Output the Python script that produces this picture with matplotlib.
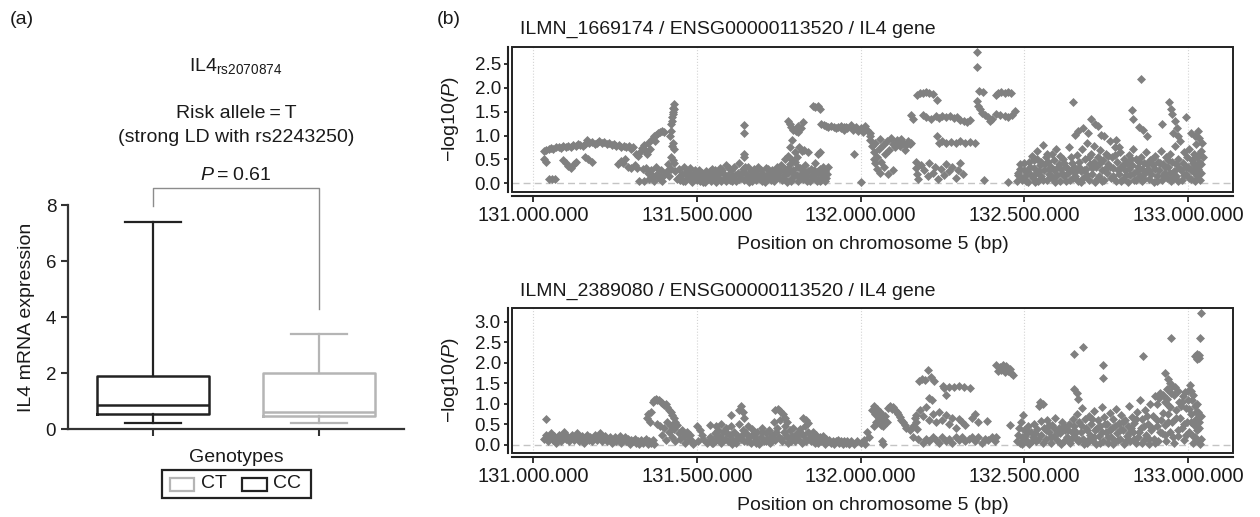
import matplotlib
matplotlib.use("Agg")
import matplotlib.pyplot as plt
from matplotlib.patches import Rectangle
from matplotlib.lines import Line2D
from matplotlib.ticker import FuncFormatter
import numpy as np

plt.rcParams['font.family'] = ['Liberation Sans', 'DejaVu Sans']
plt.rcParams['mathtext.fontset'] = 'custom'
plt.rcParams['mathtext.rm'] = 'Liberation Sans'
plt.rcParams['mathtext.it'] = 'Liberation Sans:italic'

# ---------------- Panel (a) data: box plot summary ----------------
genotypes = ['CC', 'CT']
box_colors = ['#222222', '#b5b5b5']
whislo = [0.21, 0.22]
q1 = [0.55, 0.47]
med = [0.86, 0.62]
q3 = [1.89, 2.01]
whishi = [7.40, 3.39]
p_text = '0.61'

# ---------------- Panel (b) data: (position in kb, -log10 P) ----------------
top_title = 'ILMN_1669174 / ENSG00000113520 / IL4 gene'
bottom_title = 'ILMN_2389080 / ENSG00000113520 / IL4 gene'
x_ticks_kb = [131000, 131500, 132000, 132500, 133000]

top_points = [
    (131035, 0.67), (131040, 0.70), (131048, 0.72), (131055, 0.74), (131062, 0.72), (131070, 0.75),
    (131078, 0.76), (131085, 0.74), (131092, 0.78), (131100, 0.76), (131108, 0.79), (131115, 0.77),
    (131122, 0.80), (131130, 0.78), (131138, 0.82), (131145, 0.80), (131152, 0.78), (131160, 0.83),
    (131166, 0.90), (131172, 0.84), (131180, 0.86), (131188, 0.82), (131195, 0.85), (131203, 0.88),
    (131210, 0.84), (131218, 0.86), (131225, 0.82), (131232, 0.85), (131240, 0.80), (131248, 0.83),
    (131255, 0.78), (131262, 0.80), (131270, 0.76), (131278, 0.79), (131285, 0.75), (131292, 0.78),
    (131300, 0.72), (131305, 0.76),
    (131035, 0.50), (131040, 0.45), (131050, 0.10), (131058, 0.10), (131068, 0.10), (131092, 0.48),
    (131100, 0.42), (131108, 0.36), (131115, 0.33), (131125, 0.40), (131132, 0.45), (131160, 0.55),
    (131168, 0.50), (131180, 0.45), (131260, 0.40), (131268, 0.47), (131275, 0.42), (131282, 0.50),
    (131290, 0.35), (131300, 0.32), (131310, 0.38), (131318, 0.32),
    (131315, 0.62), (131322, 0.58), (131328, 0.66), (131332, 0.74), (131338, 0.80), (131342, 0.70),
    (131348, 0.62), (131352, 0.85), (131358, 0.72), (131362, 0.92), (131368, 0.98), (131372, 0.88),
    (131376, 1.02), (131382, 1.05), (131388, 1.08), (131395, 1.10), (131400, 1.08),
    (131325, 0.05), (131335, 0.30), (131340, 0.05), (131345, 0.32), (131350, 0.22), (131355, 0.10),
    (131360, 0.28), (131365, 0.15), (131370, 0.05), (131375, 0.35), (131380, 0.20), (131385, 0.12),
    (131390, 0.28), (131395, 0.05), (131400, 0.18),
    (131418, 1.00), (131420, 1.10), (131422, 1.25), (131425, 1.38), (131427, 1.50), (131428, 1.58),
    (131430, 1.66), (131432, 1.55), (131426, 1.45), (131424, 1.30), (131428, 0.85), (131425, 0.78),
    (131430, 0.72), (131422, 0.55), (131428, 0.48), (131432, 0.42), (131420, 0.30), (131435, 0.25),
    (131415, 0.15), (131440, 0.10), (131408, 0.25), (131412, 0.40),
    (131445, 0.30), (131450, 0.08), (131455, 0.20), (131460, 0.35), (131465, 0.05), (131470, 0.25),
    (131475, 0.12), (131480, 0.32), (131485, 0.02), (131490, 0.18), (131495, 0.28), (131500, 0.08),
    (131505, 0.15), (131510, 0.05), (131515, 0.22), (131520, 0.12), (131525, 0.02), (131530, 0.18),
    (131535, 0.10), (131540, 0.25), (131545, 0.05), (131550, 0.15), (131555, 0.28), (131560, 0.10),
    (131565, 0.20), (131570, 0.32), (131575, 0.05), (131580, 0.22), (131585, 0.12), (131590, 0.38),
    (131595, 0.18), (131600, 0.08), (131605, 0.28), (131610, 0.15), (131615, 0.35), (131620, 0.05),
    (131625, 0.22), (131630, 0.42), (131635, 0.12), (131640, 0.30), (131645, 0.08), (131650, 0.20),
    (131655, 0.35), (131660, 0.02), (131665, 0.25), (131670, 0.15), (131675, 0.30), (131680, 0.08),
    (131685, 0.20), (131690, 0.12), (131695, 0.28), (131700, 0.05), (131705, 0.18), (131710, 0.32),
    (131715, 0.10), (131720, 0.22), (131725, 0.15), (131730, 0.28), (131735, 0.05), (131740, 0.20),
    (131745, 0.35), (131750, 0.12), (131755, 0.25), (131760, 0.08), (131765, 0.18), (131770, 0.30),
    (131775, 0.02), (131780, 0.22), (131785, 0.40), (131790, 0.12), (131795, 0.28), (131800, 0.45),
    (131805, 0.18), (131810, 0.05), (131815, 0.32), (131820, 0.22), (131825, 0.10), (131830, 0.38),
    (131835, 0.15), (131840, 0.25), (131845, 0.05), (131850, 0.30), (131855, 0.18), (131860, 0.42),
    (131865, 0.10), (131870, 0.22), (131875, 0.30), (131880, 0.08), (131885, 0.18), (131890, 0.25),
    (131895, 0.12), (131900, 0.35),
    (131645, 1.22), (131645, 1.05), (131645, 0.62), (131645, 0.55),
    (131770, 0.50), (131778, 0.58), (131785, 0.75), (131792, 0.90), (131800, 0.65), (131805, 0.55),
    (131790, 0.48),
    (131780, 1.30), (131785, 1.25), (131788, 1.18), (131795, 1.12), (131803, 1.10), (131810, 1.08),
    (131818, 1.15), (131825, 1.28), (131810, 1.20),
    (131812, 0.75), (131820, 0.68), (131828, 0.70), (131840, 0.65), (131870, 0.62), (131875, 0.65),
    (131855, 1.62), (131862, 1.60), (131870, 1.62), (131875, 1.55),
    (131880, 1.25), (131888, 1.22), (131895, 1.20), (131902, 1.18), (131910, 1.20), (131918, 1.17),
    (131925, 1.15), (131932, 1.18), (131940, 1.15), (131948, 1.12), (131955, 1.17),
    (131870, 0.25), (131880, 0.12), (131885, 0.35), (131875, 0.05),
    (131940, 1.20), (131950, 1.18), (131960, 1.15), (131970, 1.22), (131978, 1.12), (131985, 1.18),
    (131992, 1.10), (132000, 1.15), (132008, 1.08), (132015, 1.20), (132020, 1.12), (132028, 1.05),
    (132030, 0.98), (131980, 0.62), (132000, 0.03),
    (132030, 0.90), (132035, 0.78), (132040, 0.65), (132045, 0.85), (132050, 0.55), (132055, 0.72),
    (132060, 0.92), (132062, 0.45), (132068, 0.80), (132072, 0.35), (132075, 0.62), (132080, 0.88),
    (132085, 0.20), (132088, 0.70), (132092, 0.95), (132098, 0.82), (132100, 0.28), (132105, 0.75),
    (132110, 0.90), (132115, 0.85), (132120, 0.78), (132125, 0.92), (132130, 0.85), (132135, 0.70),
    (132140, 0.80), (132145, 0.88), (132150, 0.82), (132155, 0.85),
    (132045, 0.42), (132050, 0.30), (132058, 0.22), (132040, 0.50),
    (132155, 1.42), (132160, 1.35),
    (132172, 1.85), (132180, 1.88), (132190, 1.88), (132200, 1.90), (132210, 1.88), (132220, 1.87),
    (132232, 1.74),
    (132190, 1.42), (132200, 1.38), (132215, 1.35), (132230, 1.40), (132240, 1.37), (132250, 1.40),
    (132260, 1.38), (132272, 1.40), (132285, 1.36), (132295, 1.38), (132305, 1.32), (132315, 1.30),
    (132325, 1.28), (132335, 1.32),
    (132232, 1.00), (132240, 0.85), (132250, 0.88), (132262, 0.85), (132275, 0.86), (132290, 0.84),
    (132305, 0.88), (132318, 0.85), (132335, 0.86), (132350, 0.85),
    (132168, 0.45), (132170, 0.32), (132172, 0.20), (132175, 0.10), (132185, 0.38), (132195, 0.28),
    (132205, 0.15), (132210, 0.42), (132220, 0.22), (132228, 0.35), (132235, 0.10), (132245, 0.30),
    (132255, 0.18), (132260, 0.40), (132270, 0.25), (132280, 0.35), (132290, 0.12), (132298, 0.28),
    (132305, 0.42), (132312, 0.20),
    (132355, 2.74), (132355, 2.43), (132362, 1.94), (132375, 1.92),
    (132355, 1.72), (132360, 1.62), (132365, 1.55), (132372, 1.48), (132380, 1.42), (132388, 1.38),
    (132395, 1.30), (132402, 1.35),
    (132412, 1.85), (132420, 1.88), (132430, 1.90), (132440, 1.88), (132450, 1.90), (132460, 1.88),
    (132415, 1.45), (132425, 1.42), (132440, 1.40), (132450, 1.38), (132462, 1.42), (132470, 1.52),
    (132378, 0.07), (132450, 0.03),
    (132478, 0.05), (132482, 0.18), (132488, 0.30), (132492, 0.08), (132498, 0.42), (132502, 0.15),
    (132508, 0.25), (132512, 0.02), (132518, 0.35), (132522, 0.58), (132525, 0.12), (132530, 0.48),
    (132535, 0.22), (132540, 0.68), (132542, 0.05), (132548, 0.38), (132552, 0.15), (132556, 0.80),
    (132560, 0.28), (132565, 0.55), (132568, 0.08), (132572, 0.45), (132576, 0.20), (132580, 0.35),
    (132585, 0.62), (132588, 0.10), (132592, 0.28), (132596, 0.72), (132600, 0.18), (132605, 0.40),
    (132610, 0.05), (132612, 0.30), (132618, 0.52), (132622, 0.15), (132628, 0.35), (132632, 0.22),
    (132636, 0.76), (132640, 0.08), (132645, 0.42), (132648, 0.25),
    (132648, 1.70),
    (132665, 1.10), (132680, 1.15), (132695, 1.05), (132705, 1.35), (132715, 1.25), (132725, 1.20),
    (132735, 1.02), (132742, 0.98), (132655, 1.02),
    (132652, 0.35), (132656, 0.15), (132660, 0.60), (132664, 0.05), (132668, 0.45), (132672, 0.25),
    (132676, 0.72), (132680, 0.12), (132684, 0.50), (132688, 0.30), (132692, 0.85), (132696, 0.08),
    (132700, 0.40), (132704, 0.62), (132708, 0.20), (132712, 0.78), (132716, 0.02), (132720, 0.35),
    (132724, 0.55), (132728, 0.15), (132732, 0.70), (132736, 0.28), (132740, 0.48), (132744, 0.08),
    (132748, 0.62), (132752, 0.22), (132756, 0.40), (132760, 0.88), (132764, 0.12), (132768, 0.55),
    (132772, 0.32), (132776, 0.75), (132780, 0.05), (132784, 0.45), (132788, 0.20), (132792, 0.65),
    (132796, 0.35), (132800, 0.10), (132804, 0.52), (132808, 0.28), (132812, 0.42), (132816, 0.02),
    (132820, 0.60), (132824, 0.18), (132828, 0.38), (132832, 0.72), (132836, 0.08), (132840, 0.50),
    (132844, 0.25), (132848, 0.35), (132852, 0.15), (132856, 0.55), (132860, 0.05), (132864, 0.42),
    (132868, 0.22), (132872, 0.65), (132876, 0.30), (132880, 0.10), (132884, 0.48), (132888, 0.20),
    (132892, 0.38), (132896, 0.02), (132900, 0.58), (132904, 0.15), (132908, 0.45), (132912, 0.28),
    (132916, 0.68), (132920, 0.08), (132924, 0.40), (132928, 0.22), (132932, 0.55), (132936, 0.12),
    (132940, 0.35), (132944, 0.62), (132948, 0.05), (132952, 0.45), (132956, 0.25), (132960, 0.78),
    (132964, 0.15), (132968, 0.50), (132972, 0.32), (132976, 0.88), (132980, 0.08), (132984, 0.42),
    (132988, 0.65), (132992, 0.20), (132996, 0.55), (133000, 0.35), (133004, 0.72), (133008, 0.10),
    (133012, 0.48), (133015, 0.25), (133018, 0.62), (133020, 0.05), (133022, 0.38), (133024, 0.82),
    (133026, 0.15), (133028, 0.55), (133030, 0.30), (133032, 0.95), (133034, 0.45), (133036, 0.08),
    (133038, 0.68), (133040, 0.22), (133042, 0.85),
    (132780, 0.90), (132790, 0.76),
    (132828, 1.53), (132832, 1.35), (132850, 1.18), (132862, 1.12), (132875, 1.00), (132920, 1.25),
    (132855, 2.19),
    (132942, 1.70), (132948, 1.55), (132952, 1.45), (132960, 1.30), (132965, 1.15), (132955, 1.05),
    (132970, 0.98), (132995, 1.39), (133010, 1.05), (133020, 1.00), (133030, 1.10),
]

top_dense_points = [
    (132480, 0.22), (132486, 0.40), (132494, 0.12), (132500, 0.28), (132506, 0.05), (132514, 0.45),
    (132520, 0.18), (132528, 0.32), (132532, 0.02), (132538, 0.50), (132545, 0.25), (132550, 0.45),
    (132558, 0.08), (132562, 0.40), (132570, 0.62), (132574, 0.30), (132582, 0.15), (132590, 0.48),
    (132594, 0.02), (132602, 0.35), (132608, 0.58), (132615, 0.22), (132620, 0.42), (132626, 0.05),
    (132634, 0.30), (132642, 0.55), (132650, 0.12), (132658, 0.25), (132666, 0.35), (132674, 0.02),
    (132682, 0.28), (132690, 0.18), (132698, 0.55), (132706, 0.32), (132714, 0.45), (132722, 0.10),
    (132730, 0.42), (132738, 0.05), (132746, 0.30), (132754, 0.58), (132762, 0.35), (132770, 0.15),
    (132778, 0.60), (132786, 0.28), (132794, 0.05), (132802, 0.38), (132810, 0.18), (132818, 0.30),
    (132826, 0.50), (132834, 0.22), (132842, 0.08), (132850, 0.45), (132858, 0.30), (132866, 0.10),
    (132874, 0.40), (132882, 0.25), (132890, 0.52), (132898, 0.30), (132906, 0.05), (132914, 0.42),
    (132922, 0.18), (132930, 0.35), (132938, 0.48), (132946, 0.22), (132954, 0.12), (132962, 0.40),
    (132970, 0.05), (132978, 0.28), (132986, 0.18), (132994, 0.35), (133002, 0.12), (133010, 0.28),
    (133016, 0.42), (133024, 0.20), (133032, 0.62), (133040, 0.40), (133044, 0.55),
    (131448, 0.15), (131458, 0.05), (131468, 0.18), (131478, 0.22), (131488, 0.10), (131498, 0.20),
    (131508, 0.28), (131518, 0.02), (131528, 0.25), (131538, 0.15), (131548, 0.30), (131558, 0.02),
    (131568, 0.12), (131578, 0.28), (131588, 0.05), (131598, 0.32), (131608, 0.05), (131618, 0.18),
    (131628, 0.10), (131638, 0.22), (131648, 0.35), (131658, 0.12), (131668, 0.05), (131678, 0.20),
    (131688, 0.35), (131698, 0.15), (131708, 0.02), (131718, 0.30), (131728, 0.08), (131738, 0.15),
    (131748, 0.28), (131758, 0.38), (131768, 0.10), (131778, 0.32), (131788, 0.05), (131798, 0.20),
    (131808, 0.35), (131818, 0.12), (131828, 0.25), (131838, 0.05), (131848, 0.15), (131858, 0.28),
    (131868, 0.05), (131892, 0.05), (131898, 0.20),
]

bottom_points = [
    (131040, 0.62),
    (131035, 0.15), (131040, 0.25), (131045, 0.08), (131050, 0.18), (131055, 0.28), (131060, 0.12),
    (131065, 0.22), (131070, 0.05), (131075, 0.18), (131080, 0.25), (131085, 0.10), (131090, 0.20),
    (131095, 0.30), (131100, 0.15), (131105, 0.22), (131110, 0.08), (131115, 0.18), (131120, 0.25),
    (131125, 0.12), (131130, 0.20), (131135, 0.28), (131140, 0.10), (131145, 0.18), (131150, 0.22),
    (131155, 0.05), (131160, 0.15), (131165, 0.25), (131170, 0.12), (131175, 0.20), (131180, 0.08),
    (131185, 0.18), (131190, 0.25), (131195, 0.12), (131200, 0.20), (131205, 0.28), (131210, 0.10),
    (131215, 0.18), (131220, 0.22), (131225, 0.08), (131230, 0.15), (131235, 0.20), (131240, 0.05),
    (131245, 0.12), (131250, 0.18), (131255, 0.10), (131260, 0.15), (131265, 0.22), (131270, 0.05),
    (131275, 0.12), (131280, 0.18), (131285, 0.08), (131290, 0.15), (131295, 0.02), (131300, 0.12),
    (131305, 0.08), (131310, 0.15), (131315, 0.05), (131320, 0.10), (131325, 0.02), (131330, 0.12),
    (131335, 0.05), (131340, 0.08), (131345, 0.15), (131350, 0.03), (131355, 0.10), (131360, 0.05),
    (131365, 0.12), (131370, 0.02),
    (131348, 0.65), (131352, 0.75), (131356, 0.55), (131360, 0.80), (131365, 1.05), (131370, 1.10),
    (131375, 1.12), (131380, 1.10), (131385, 1.08), (131390, 1.05), (131395, 1.02), (131400, 0.98),
    (131405, 1.00), (131410, 0.92), (131415, 0.85), (131420, 0.80), (131425, 0.72), (131430, 0.65),
    (131435, 0.55), (131378, 0.50), (131388, 0.45),
    (131395, 0.25), (131400, 0.40), (131405, 0.12), (131410, 0.55), (131415, 0.30), (131420, 0.45),
    (131425, 0.20), (131430, 0.38), (131435, 0.10), (131440, 0.48), (131445, 0.28), (131450, 0.15),
    (131455, 0.35), (131460, 0.22), (131465, 0.05), (131470, 0.30), (131475, 0.15), (131480, 0.25),
    (131485, 0.10), (131490, 0.02),
    (131500, 0.45), (131510, 0.35), (131515, 0.25), (131505, 0.10), (131520, 0.15), (131530, 0.05),
    (131540, 0.20),
    (131540, 0.48), (131560, 0.45), (131575, 0.50), (131605, 0.73),
    (131635, 0.95), (131630, 0.85), (131640, 0.80), (131645, 0.65),
    (131740, 0.85), (131748, 0.88), (131755, 0.82), (131762, 0.75), (131770, 0.65), (131775, 0.55),
    (131825, 0.65), (131832, 0.60), (131840, 0.52),
    (131545, 0.15), (131550, 0.05), (131555, 0.28), (131560, 0.12), (131565, 0.35), (131570, 0.20),
    (131575, 0.05), (131580, 0.30), (131585, 0.15), (131590, 0.40), (131595, 0.08), (131600, 0.25),
    (131605, 0.45), (131610, 0.12), (131615, 0.32), (131620, 0.05), (131625, 0.22), (131630, 0.50),
    (131635, 0.15), (131640, 0.35), (131645, 0.08), (131650, 0.28), (131655, 0.45), (131660, 0.18),
    (131665, 0.05), (131670, 0.38), (131675, 0.22), (131680, 0.12), (131685, 0.30), (131690, 0.02),
    (131695, 0.20), (131700, 0.42), (131705, 0.10), (131710, 0.28), (131715, 0.15), (131720, 0.35),
    (131725, 0.05), (131730, 0.25), (131735, 0.55), (131740, 0.12), (131745, 0.40), (131750, 0.20),
    (131755, 0.60), (131760, 0.08), (131765, 0.30), (131770, 0.45), (131775, 0.18), (131780, 0.05),
    (131785, 0.35), (131790, 0.22), (131795, 0.42), (131800, 0.10), (131805, 0.28), (131810, 0.15),
    (131815, 0.38), (131820, 0.05), (131825, 0.25), (131830, 0.45), (131835, 0.12), (131840, 0.30),
    (131845, 0.20), (131850, 0.08), (131855, 0.32), (131860, 0.15), (131865, 0.25), (131870, 0.05),
    (131875, 0.18), (131880, 0.10), (131885, 0.22), (131890, 0.02), (131895, 0.15), (131900, 0.08),
    (131905, 0.12), (131910, 0.05), (131915, 0.10), (131920, 0.03), (131925, 0.08), (131930, 0.12),
    (131935, 0.05), (131940, 0.10), (131945, 0.02), (131950, 0.08), (131955, 0.05), (131960, 0.10),
    (131965, 0.03),
    (131970, 0.08), (131980, 0.02), (131990, 0.10), (132000, 0.05), (132010, 0.12), (132015, 0.03),
    (132020, 0.30), (132025, 0.20),
    (132035, 0.85), (132040, 0.95), (132045, 0.75), (132050, 0.88), (132055, 0.65), (132060, 0.80),
    (132065, 0.72), (132070, 0.60), (132075, 0.70), (132080, 0.55), (132085, 0.90), (132090, 0.95),
    (132095, 0.88), (132100, 0.92), (132105, 0.85), (132110, 0.80), (132115, 0.75), (132120, 0.68),
    (132040, 0.45), (132048, 0.55), (132062, 0.48), (132070, 0.45),
    (132125, 0.60), (132130, 0.55), (132135, 0.48), (132140, 0.42), (132150, 0.35), (132160, 0.20),
    (132065, 0.08), (132070, 0.02),
    (132160, 0.45), (132165, 0.65), (132170, 0.72), (132172, 0.38), (132168, 0.55), (132175, 0.15),
    (132178, 1.55), (132188, 1.60), (132198, 1.58), (132206, 1.82), (132215, 1.65), (132225, 1.55),
    (132252, 1.42), (132262, 1.22),
    (132255, 1.38), (132270, 1.40), (132285, 1.40), (132300, 1.42), (132315, 1.40), (132335, 1.38),
    (132210, 1.15), (132218, 1.08),
    (132180, 0.85), (132190, 0.70), (132200, 0.92), (132210, 0.60), (132220, 0.75), (132230, 0.55),
    (132240, 0.80), (132250, 0.60), (132260, 0.72), (132270, 0.50), (132280, 0.65), (132290, 0.40),
    (132300, 0.62), (132310, 0.55), (132320, 0.48), (132340, 0.65), (132350, 0.75), (132360, 0.55),
    (132190, 0.05), (132200, 0.15), (132210, 0.08), (132220, 0.20), (132230, 0.12), (132240, 0.05),
    (132250, 0.18), (132260, 0.10), (132270, 0.15), (132280, 0.05), (132290, 0.20), (132300, 0.12),
    (132310, 0.18), (132320, 0.08), (132330, 0.15), (132340, 0.20), (132350, 0.10), (132360, 0.18),
    (132370, 0.05), (132380, 0.15), (132390, 0.12), (132400, 0.20), (132410, 0.08), (132415, 0.18),
    (132385, 0.57),
    (132415, 1.95), (132425, 1.90), (132435, 1.95), (132445, 1.92), (132455, 1.85), (132420, 1.80),
    (132430, 1.82), (132440, 1.78), (132450, 1.80), (132460, 1.75), (132465, 1.70),
    (132455, 0.49),
    (132478, 0.10), (132482, 0.25), (132486, 0.05), (132490, 0.55), (132492, 0.18), (132496, 0.72),
    (132500, 0.35), (132505, 0.12), (132510, 0.45), (132515, 0.02), (132520, 0.30), (132525, 0.20),
    (132530, 0.50), (132535, 0.10), (132540, 0.38), (132545, 0.95), (132548, 1.05), (132552, 0.25),
    (132556, 1.00), (132560, 0.42), (132565, 0.15), (132570, 0.60), (132575, 0.30), (132580, 0.05),
    (132585, 0.48), (132590, 0.22), (132595, 0.65), (132600, 0.12), (132605, 0.40), (132610, 0.28),
    (132615, 0.55), (132620, 0.08), (132625, 0.35), (132630, 0.18), (132635, 0.50), (132640, 0.05),
    (132645, 0.30),
    (132652, 2.20), (132680, 2.38), (132652, 1.35), (132665, 1.12), (132660, 1.25),
    (132740, 1.95), (132740, 1.62),
    (132652, 0.45), (132656, 0.20), (132660, 0.75), (132664, 0.08), (132668, 0.55), (132672, 0.32),
    (132676, 0.90), (132680, 0.15), (132684, 0.62), (132688, 0.40), (132692, 0.05), (132696, 0.70),
    (132700, 0.25), (132704, 0.50), (132708, 0.12), (132712, 0.82), (132716, 0.35), (132720, 0.02),
    (132724, 0.60), (132728, 0.22), (132732, 0.45), (132736, 0.92), (132740, 0.10), (132744, 0.68),
    (132748, 0.30), (132752, 0.50), (132756, 0.05), (132760, 0.78), (132764, 0.18), (132768, 0.40),
    (132772, 0.62), (132776, 0.08), (132780, 0.88), (132784, 0.28), (132788, 0.52), (132792, 0.15),
    (132796, 0.72), (132800, 0.35), (132804, 0.02), (132808, 0.60), (132812, 0.22), (132816, 0.45),
    (132820, 0.95), (132824, 0.10), (132828, 0.68), (132832, 0.30), (132836, 0.52), (132840, 0.05),
    (132844, 0.80), (132848, 0.18), (132852, 1.10), (132856, 0.40), (132860, 0.62), (132864, 0.12),
    (132868, 0.85), (132872, 0.25), (132876, 0.50), (132880, 0.02), (132884, 1.00), (132888, 0.35),
    (132892, 0.70), (132896, 0.15), (132900, 1.18), (132904, 0.45), (132908, 0.08), (132912, 1.15),
    (132916, 0.60), (132920, 0.28), (132924, 1.20), (132928, 0.48), (132932, 0.10), (132936, 1.12),
    (132940, 0.75), (132944, 0.32), (132948, 1.25), (132952, 0.55), (132956, 0.05), (132960, 1.40),
    (132964, 0.85), (132968, 0.22), (132972, 1.05), (132976, 0.65), (132980, 0.40), (132984, 1.18),
    (132988, 0.12), (132992, 0.90), (132996, 0.55), (133000, 1.30), (133004, 0.30), (133008, 0.75),
    (133012, 1.10), (133015, 0.05), (133018, 0.48), (133020, 0.95), (133022, 0.20), (133024, 0.62),
    (133026, 1.00), (133028, 0.35), (133030, 0.80), (133032, 0.10), (133034, 0.55), (133036, 0.02),
    (132862, 2.15), (132948, 2.60),
    (133039, 3.20), (133036, 2.61),
    (133022, 2.15), (133028, 2.20), (133032, 2.12), (133026, 2.08), (133034, 2.18),
    (132930, 1.75), (132938, 1.60), (132945, 1.50), (132952, 1.42), (132935, 1.35),
    (133005, 1.45), (133010, 1.30),
]

bottom_dense_points = [
    (132484, 0.40), (132494, 0.02), (132502, 0.22), (132512, 0.32), (132522, 0.08), (132532, 0.28),
    (132542, 0.15), (132550, 0.58), (132558, 0.05), (132566, 0.35), (132574, 0.48), (132582, 0.20),
    (132592, 0.42), (132602, 0.30), (132612, 0.02), (132622, 0.45), (132632, 0.35), (132642, 0.15),
    (132650, 0.62), (132658, 0.30), (132666, 0.12), (132674, 0.48), (132682, 0.02), (132690, 0.35),
    (132698, 0.15), (132706, 0.62), (132714, 0.18), (132722, 0.42), (132730, 0.05), (132738, 0.30),
    (132746, 0.50), (132754, 0.20), (132762, 0.35), (132770, 0.02), (132778, 0.45), (132786, 0.12),
    (132794, 0.38), (132802, 0.55), (132810, 0.08), (132818, 0.28), (132826, 0.42), (132834, 0.15),
    (132842, 0.62), (132850, 0.30), (132858, 0.05), (132866, 0.45), (132874, 0.70), (132882, 0.15),
    (132890, 0.40), (132898, 0.05), (132906, 0.60), (132914, 0.30), (132922, 0.78), (132930, 0.25),
    (132938, 0.55), (132946, 0.92), (132954, 0.18), (132962, 0.65), (132970, 0.35), (132978, 0.95),
    (132986, 0.50), (132994, 0.25), (133002, 0.88), (133010, 0.55), (133016, 0.22), (133024, 0.80),
    (133032, 0.40), (133038, 0.70), (133040, 0.15),
    (132905, 1.00), (132915, 1.25), (132930, 1.05), (132942, 0.95), (132958, 1.22), (132968, 1.30),
    (132980, 1.05), (132990, 1.28), (133000, 1.10), (133015, 1.20),
    (131548, 0.05), (131562, 0.22), (131578, 0.15), (131592, 0.28), (131608, 0.02), (131622, 0.15),
    (131638, 0.25), (131652, 0.10), (131668, 0.25), (131682, 0.05), (131698, 0.32), (131712, 0.08),
    (131728, 0.18), (131742, 0.30), (131758, 0.15), (131772, 0.25), (131788, 0.08), (131802, 0.20),
    (131818, 0.28), (131832, 0.10), (131848, 0.15), (131862, 0.05),
]

# ---------------- Figure ----------------
W, H = 1260, 517
fig = plt.figure(figsize=(W / 100, H / 100), dpi=100)


def fx(px):
    return px / W


def fy(py):
    return 1 - py / H


TXT = '#1a1a1a'
TS = '\u2009'

# ===== Panel (a) =====
axa = fig.add_axes([fx(68), fy(429), fx(404) - fx(68), fy(205) - fy(429)])
stats = []
for i, g in enumerate(genotypes):
    stats.append(dict(label=g, med=med[i], q1=q1[i], q3=q3[i],
                      whislo=whislo[i], whishi=whishi[i], fliers=[]))
positions = [1, 2]
for i, st in enumerate(stats):
    c = box_colors[i]
    axa.bxp([st], positions=[positions[i]], widths=0.674, showfliers=False,
            patch_artist=False,
            boxprops=dict(color=c, linewidth=1.8),
            medianprops=dict(color=c, linewidth=1.8),
            whiskerprops=dict(color=c, linewidth=1.6),
            capprops=dict(color=c, linewidth=1.6),
            capwidths=0.34)
axa.set_xlim(0.49, 2.51)
axa.set_ylim(0, 8)
axa.set_yticks([0, 2, 4, 6, 8])
axa.set_xticks(positions)
axa.set_xticklabels(['', ''])
for s in ['top', 'right']:
    axa.spines[s].set_visible(False)
for s in ['left', 'bottom']:
    axa.spines[s].set_linewidth(1.6)
    axa.spines[s].set_color('#333333')
axa.tick_params(axis='both', direction='out', length=5, width=1.5, color='#333333',
                labelsize=13.5, labelcolor=TXT)
axa.set_ylabel('IL4 mRNA expression', fontsize=14, color=TXT, labelpad=8)
axa.set_xlabel('Genotypes', fontsize=14, color=TXT, labelpad=6)

# significance bracket
br_x = [positions[0], positions[0], positions[1], positions[1]]
br_y = [7.96, 8.6, 8.6, 4.29]
axa.add_line(Line2D(br_x, br_y, color='#8c8c8c', lw=1.0, clip_on=False))

fig.text(fx(236), fy(175), r'$P$' + TS + '=' + TS + p_text, ha='center', va='center', fontsize=14, color=TXT)
fig.text(fx(236), fy(113), 'Risk allele' + TS + '=' + TS + 'T', ha='center', va='center', fontsize=14, color=TXT)
fig.text(fx(236), fy(138), '(strong LD with rs2243250)', ha='center', va='center', fontsize=14, color=TXT)
fig.text(fx(236), fy(66), r'IL4$_{\mathrm{rs2070874}}$', ha='center', va='center', fontsize=14, color=TXT)
fig.text(fx(10), fy(20), '(a)', ha='left', va='center', fontsize=14, color=TXT)
fig.text(fx(437), fy(20), '(b)', ha='left', va='center', fontsize=14, color=TXT)

# legend (manual)
fig.add_artist(Rectangle((fx(162), fy(498)), fx(311) - fx(162), fy(470) - fy(498),
                         transform=fig.transFigure, fill=False, edgecolor='#222222', lw=1.6))
fig.add_artist(Rectangle((fx(170), fy(491)), fx(194) - fx(170), fy(478) - fy(491),
                         transform=fig.transFigure, fill=False, edgecolor=box_colors[1], lw=1.6))
fig.text(fx(201), fy(484), genotypes[1], ha='left', va='center', fontsize=14, color=TXT)
fig.add_artist(Rectangle((fx(242), fy(491)), fx(267) - fx(242), fy(478) - fy(491),
                         transform=fig.transFigure, fill=False, edgecolor=box_colors[0], lw=1.6))
fig.text(fx(273), fy(484), genotypes[0], ha='left', va='center', fontsize=14, color=TXT)


# ===== Panel (b) =====
def manhattan(ax, pts, title, ylim, yticks, title_y):
    xs = np.array([p[0] for p in pts]) * 1000.0
    ys = np.array([p[1] for p in pts])
    for t in x_ticks_kb:
        ax.axvline(t * 1000.0, color='#d4d4d4', lw=0.8, ls=':', zorder=0)
    ax.axhline(0, color='#c4c4c4', lw=1.0, ls=(0, (5, 3)), zorder=1)
    ax.scatter(xs, ys, marker='D', s=21, c='#808080', linewidths=0, zorder=2)
    ax.set_xlim(130936e3, 133137e3)
    ax.set_ylim(*ylim)
    ax.set_xticks([t * 1000.0 for t in x_ticks_kb])
    ax.xaxis.set_major_formatter(FuncFormatter(lambda v, p: f"{int(round(v)):,}".replace(',', '.')))
    ax.set_yticks(yticks)
    ax.set_yticklabels([f"{v:.1f}" for v in yticks])
    for s in ['top', 'right']:
        ax.spines[s].set_visible(False)
    for s in ['left', 'bottom']:
        ax.spines[s].set_position(('outward', 3))
        ax.spines[s].set_linewidth(1.5)
        ax.spines[s].set_color('#222222')
    ax.add_patch(Rectangle((0, 0), 1, 1, transform=ax.transAxes, fill=False,
                           edgecolor='#222222', lw=1.4, clip_on=False, zorder=5))
    ax.tick_params(axis='x', direction='out', length=4, width=1.3, color='#222222',
                   labelsize=14.5, labelcolor=TXT, pad=3)
    ax.tick_params(axis='y', direction='out', length=3, width=1.3, color='#222222',
                   labelsize=13.5, labelcolor=TXT, pad=2)
    ax.set_ylabel(r'$-$log10($P$)', fontsize=14, color=TXT, labelpad=10)
    ax.set_xlabel('Position on chromosome 5 (bp)', fontsize=14, color=TXT, labelpad=8)
    fig.text(fx(520), fy(title_y), title, ha='left', va='center', fontsize=14, color=TXT)


ax1 = fig.add_axes([fx(512), fy(192), fx(1233) - fx(512), fy(47) - fy(192)])
manhattan(ax1, top_points + top_dense_points, top_title, (-0.18, 2.85),
          [0.0, 0.5, 1.0, 1.5, 2.0, 2.5], 29)

ax2 = fig.add_axes([fx(512), fy(453), fx(1233) - fx(512), fy(308) - fy(453)])
manhattan(ax2, bottom_points + bottom_dense_points, bottom_title, (-0.2, 3.33),
          [0.0, 0.5, 1.0, 1.5, 2.0, 2.5, 3.0], 291)

fig.savefig('out.png', dpi=100, facecolor='white')
